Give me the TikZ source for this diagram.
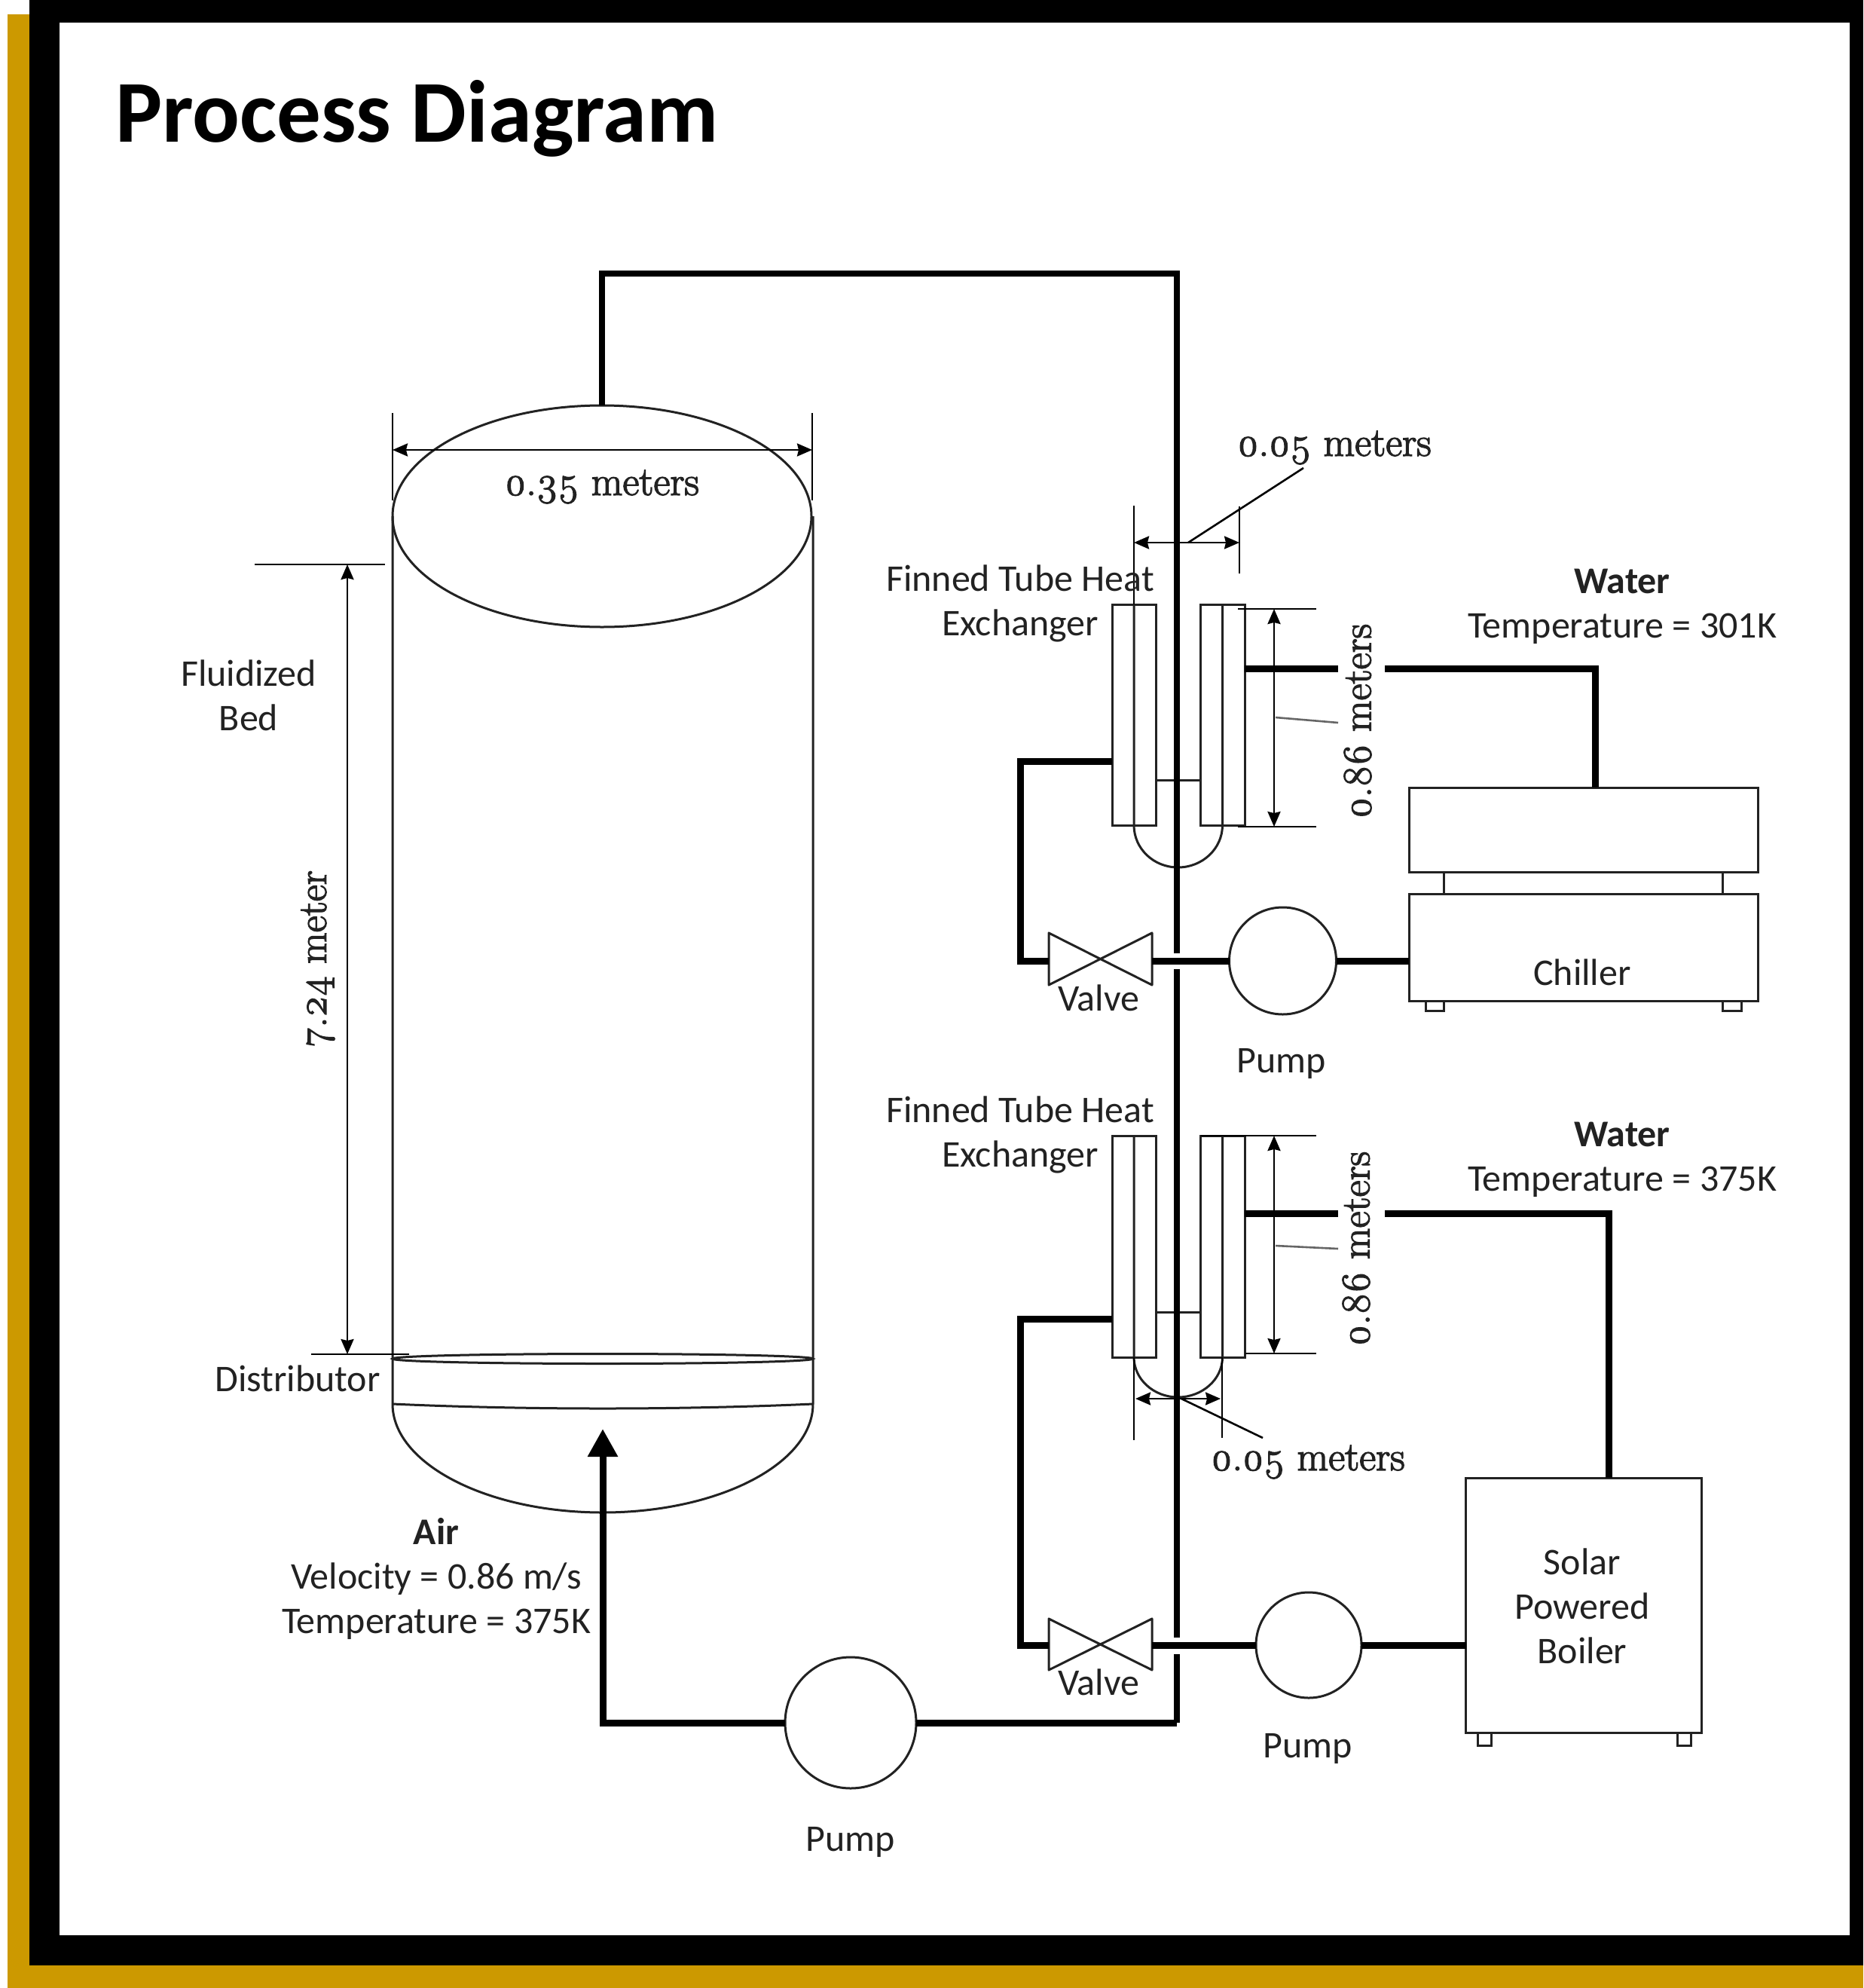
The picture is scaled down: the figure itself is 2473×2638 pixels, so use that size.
\documentclass[tikz,border=0pt]{standalone}
\usepackage{fontspec}
\usetikzlibrary{arrows.meta,shapes.geometric}
\setmainfont{Carlito}
\newfontfamily\oldst{Latin Modern Roman}[Numbers=OldStyle,FakeBold=2.5]
\definecolor{gold}{HTML}{CC9900}
\definecolor{ink}{HTML}{222222}
\tikzset{
  x=1pt,y=-1pt,
  thin line/.style={draw=ink,line width=3pt},
  pipe/.style={draw=black,line width=9pt,miter limit=10},
  mainpipe/.style={draw=black,line width=7.5pt},
  dimline/.style={draw=black,line width=2.6pt},
  dimarrow/.style={draw=black,line width=2.6pt,{Stealth[length=20pt,width=17pt,inset=2pt]}-{Stealth[length=20pt,width=17pt,inset=2pt]}},
  leader/.style={draw=black!60,line width=2.6pt},
  box/.style={thin line,rectangle,inner sep=0pt,outer sep=0pt,fill=none},
  pumpc/.style={thin line,circle,inner sep=0pt,outer sep=0pt},
  lab/.style={font=\fontsize{50}{55}\selectfont,text=ink,inner sep=0pt,align=center,text height=35pt,text depth=0pt},
  blab/.style={lab,font=\fontsize{50}{55}\selectfont\bfseries},
  dimlab/.style={font=\oldst\fontsize{54}{60}\selectfont,text=ink,inner sep=0pt},
}
\begin{document}
\begin{tikzpicture}
\useasboundingbox (0,0) rectangle (2473,2638);
\fill[white] (0,0) rectangle (2473,2638);
\fill[gold] (10,19) rectangle (2473,2638);
\fill[black] (39,0) rectangle (2473,2608);
\fill[white] (79,30) rectangle (2455,2568);
\node[anchor=base west,font=\fontsize{117}{120}\selectfont\bfseries,inner sep=0pt] (title) at (153,189) {Process Diagram};

% ---------- vessel
\coordinate (vl) at (521,685);
\coordinate (vr) at (1079,685);
\coordinate (hl) at (521,1863);
\coordinate (hr) at (1079,1863);
\coordinate (hb) at (800,2007);
\node[thin line,ellipse,minimum width=556pt,minimum height=294pt,inner sep=0pt,outer sep=0pt] (dome) at (799,685) {};
\node[thin line,ellipse,minimum width=558pt,minimum height=13pt,inner sep=0pt,outer sep=0pt] (dist) at (800,1803) {};
\draw[thin line] (vl) -- (hl) .. controls (521,1942) and (646,2007) .. (hb) .. controls (954,2007) and (1079,1942) .. (hr) -- (vr);
\draw[thin line] (hl) .. controls (700,1871) and (900,1871) .. (hr);

% ---------- heat exchangers
\node[box,minimum width=58pt,minimum height=293pt] (aL) at (1505,948.5) {};
\node[box,minimum width=59pt,minimum height=293pt] (aR) at (1622.5,948.5) {};
\node[box,minimum width=58pt,minimum height=294pt] (bL) at (1505,1654) {};
\node[box,minimum width=59pt,minimum height=294pt] (bR) at (1622.5,1654) {};
\draw[thin line] (aL.north) -- (aL.south) .. controls (1505,1126) and (1531,1151) .. (1563.5,1151) .. controls (1596,1151) and (1622.5,1126) .. (aR.south) -- (aR.north);
\draw[thin line] (bL.north) -- (bL.south) .. controls (1505,1830) and (1531,1854) .. (1563.5,1854) .. controls (1596,1854) and (1622.5,1830) .. (bR.south) -- (bR.north);
\draw[thin line] (aL.east |- 0,1035) -- (aR.west |- 0,1035);
\draw[thin line] (bL.east |- 0,1741) -- (bR.west |- 0,1741);

% ---------- chiller
\node[box,minimum width=463pt,minimum height=112pt] (chTop) at (2101.5,1101) {};
\node[box,minimum width=463pt,minimum height=142pt] (chLow) at (2101.5,1257) {};
\draw[thin line] (1916,1157) -- (1916,1186);
\draw[thin line] (2286,1157) -- (2286,1186);
\node[box,minimum width=24pt,minimum height=13pt] (chF1) at (1904,1334.5) {};
\node[box,minimum width=25pt,minimum height=13pt] (chF2) at (2298.5,1334.5) {};
\node[lab] (chillerT) at (2100,1290) {Chiller};

% ---------- boiler
\node[box,minimum width=313pt,minimum height=338pt] (boiler) at (2102,2130) {};
\node[box,minimum width=18pt,minimum height=17pt] (boF1) at (1970,2307.5) {};
\node[box,minimum width=18pt,minimum height=17pt] (boF2) at (2235,2307.5) {};
\node[lab] (bo1) at (2100,2072) {Solar};
\node[lab] (bo2) at (2100,2131) {Powered};
\node[lab] (bo3) at (2100,2190) {Boiler};

% ---------- pumps
\node[pumpc,minimum size=142pt] (pumpA) at (1702.5,1275) {};
\node[pumpc,minimum size=140pt] (pumpB) at (1737,2183) {};
\node[pumpc,minimum size=174pt] (pumpC) at (1129,2286) {};

% ---------- valves
\draw[thin line,line join=round] (1392,1238) -- (1529,1307) -- (1529,1238) -- (1392,1307) -- cycle;
\draw[thin line,line join=round] (1392,2148) -- (1529,2216) -- (1529,2148) -- (1392,2216) -- cycle;
\coordinate (vaL) at (1392,1275);
\coordinate (vaR) at (1529,1275);
\coordinate (vbL) at (1392,2183);
\coordinate (vbR) at (1529,2183);

% ---------- main pipe
\coordinate (domeTop) at (799,538);
\coordinate (c1) at (799,363);
\coordinate (c2) at (1562,363);
\coordinate (gapA1) at (1562,1265);
\coordinate (gapA2) at (1562,1286);
\coordinate (gapB1) at (1562,2173);
\coordinate (gapB2) at (1562,2195);
\coordinate (c3) at (1562,2286);
\coordinate (c4) at (800,2286);
\coordinate (tipAir) at (800,1896);
\draw[mainpipe] (domeTop) -- (c1) -- (c2) -- (gapA1);
\draw[mainpipe] (gapA2) -- (gapB1);
\draw[mainpipe] (gapB2) -- (c3);
\draw[pipe] (c3) -- (pumpC.east);
\draw[pipe,-{Triangle[length=37pt,width=38pt]}] (pumpC.west) -- (c4) -- (tipAir);

% ---------- water loop A
\draw[pipe] (aL.west |- 0,1010) -- (1354,1010) -- (1354,1275) -- (vaL);
\draw[pipe] (vaR) -- (pumpA.west);
\draw[pipe] (pumpA.east) -- (chLow.west |- pumpA.east);
\draw[pipe] (aR.east |- 0,887) -- (1776,887);
\draw[pipe] (1838,887) -- (2117,887) -- (2117,1045);

% ---------- water loop B
\draw[pipe] (bL.west |- 0,1750) -- (1354,1750) -- (1354,2183) -- (vbL);
\draw[pipe] (vbR) -- (pumpB.west);
\draw[pipe] (pumpB.east) -- (boiler.west |- pumpB.east);
\draw[pipe] (bR.east |- 0,1610) -- (1776,1610);
\draw[pipe] (1838,1610) -- (2135,1610) -- (2135,1961);

% ---------- dimensions
\coordinate (d1l) at (521,597);
\coordinate (d1r) at (1078,597);
\draw[dimline] (521,548) -- (521,664);
\draw[dimline] (1078,548) -- (1078,664);
\draw[dimarrow] (d1l) -- (d1r);
\node[dimlab] (dim035) at (799,646) {0.35 meters};

\draw[dimline] (338,749) -- (511,749);
\draw[dimline] (413,1797) -- (543,1797);
\draw[dimarrow] (461,749) -- (461,1797);
\node[dimlab,rotate=90] (dim724) at (422,1272) {7.24 meter};

\draw[dimline] (1505,671) -- (1505,802);
\draw[dimline] (1645,672) -- (1645,761);
\draw[dimarrow] (1505,720) -- (1645,720);
\draw[dimline] (1577,720) -- (1730,621);
\node[dimlab] (dim05a) at (1771,594) {0.05 meters};

\draw[dimline] (1643,808) -- (1747,808);
\draw[dimline] (1643,1097) -- (1747,1097);
\draw[dimarrow] (1691,808) -- (1691,1097);
\draw[leader] (1693,952) -- (1776,959);
\node[dimlab,rotate=90] (dim86a) at (1802,957) {0.86 meters};

\draw[dimline] (1594,1507) -- (1747,1507);
\draw[dimline] (1653,1796) -- (1747,1796);
\draw[dimarrow] (1691,1507) -- (1691,1796);
\draw[leader] (1693,1653) -- (1776,1657);
\node[dimlab,rotate=90] (dim86b) at (1800,1657) {0.86 meters};

\draw[dimline] (1505,1801) -- (1505,1911);
\draw[dimline] (1622,1801) -- (1622,1908);
\draw[dimarrow] (1507,1856) -- (1620,1856);
\draw[dimline] (1568,1856) -- (1676,1908);
\node[dimlab] (dim05b) at (1736,1940) {0.05 meters};

% ---------- labels
\node[lab] (fl1) at (330,893) {Fluidized};
\node[lab] (fl2) at (330,952) {Bed};
\node[lab] (distT) at (395,1829) {Distributor};
\node[blab] (air) at (579,2032) {Air};
\node[lab] (air1) at (579,2091) {Velocity = 0.86 m/s};
\node[lab] (air2) at (579,2150) {Temperature = 375K};
\node[lab] (fa1) at (1354,767) {Finned Tube Heat};
\node[lab] (fa2) at (1354,826) {Exchanger};
\node[lab] (fb1) at (1354,1472) {Finned Tube Heat};
\node[lab] (fb2) at (1354,1531) {Exchanger};
\node[blab] (wa) at (2153,770) {Water};
\node[lab] (wa1) at (2153,829) {Temperature = 301K};
\node[blab] (wb) at (2153,1504) {Water};
\node[lab] (wb1) at (2153,1563) {Temperature = 375K};
\node[lab] (vaT) at (1458,1324) {Valve};
\node[lab] (vbT) at (1458,2232) {Valve};
\node[lab] (pA) at (1701,1406) {Pump};
\node[lab] (pB) at (1736,2315) {Pump};
\node[lab] (pC) at (1129,2439) {Pump};
\end{tikzpicture}
\end{document}
